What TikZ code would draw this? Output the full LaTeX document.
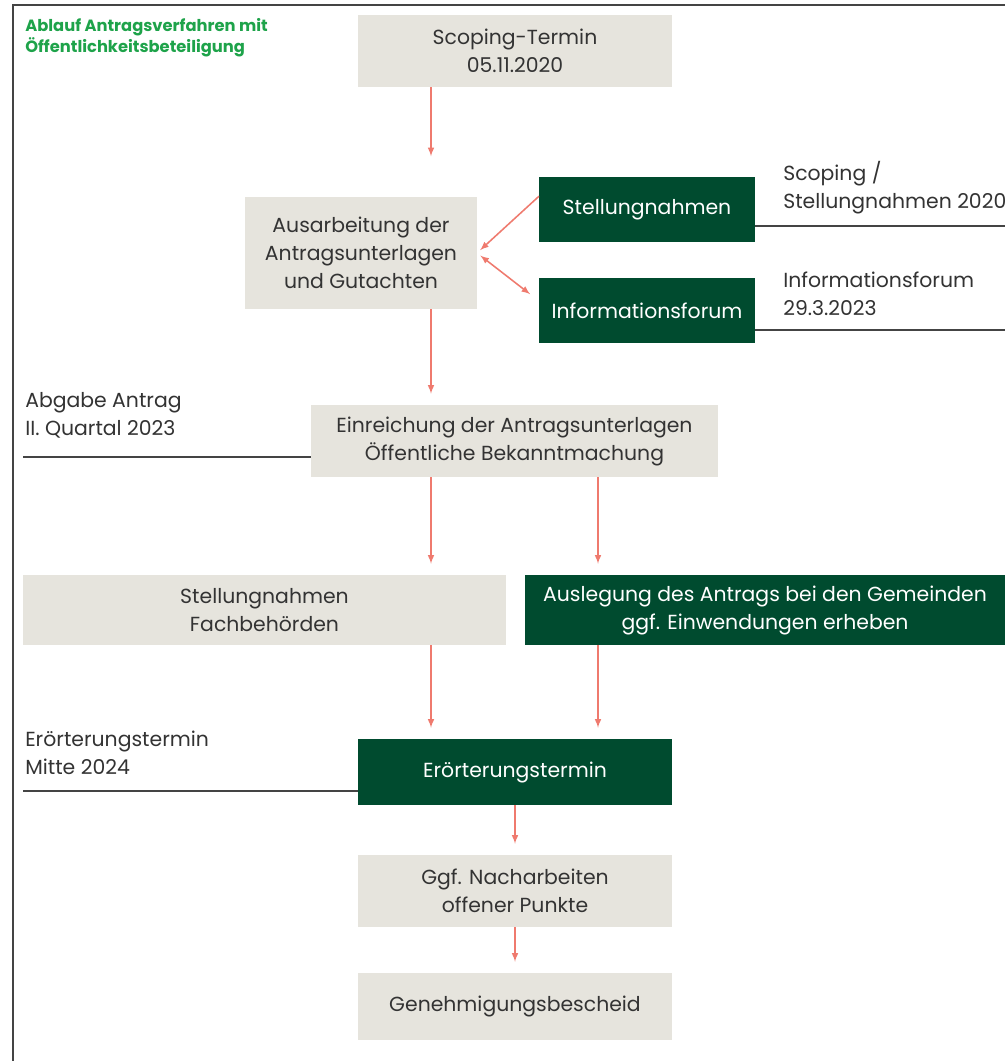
\documentclass[tikz,border=0pt]{standalone}
\usepackage{fontspec}
\setmainfont{Poppins}
\usepackage{tikz}
\usetikzlibrary{arrows}

\definecolor{boxgray}{HTML}{E6E4DD}
\definecolor{darkgreen}{HTML}{004B2F}
\definecolor{titlegreen}{HTML}{1EA34A}
\definecolor{arrowred}{HTML}{EF7A6E}
\definecolor{textgray}{HTML}{333333}
\definecolor{framegray}{HTML}{444444}

\begin{document}
\begin{tikzpicture}[x=0.025cm,y=-0.025cm,
	font=\fontsize{14.5}{19.9}\selectfont,
	graybox/.style={fill=boxgray,text=textgray,align=center,inner sep=0pt,outer sep=0pt},
	greenbox/.style={fill=darkgreen,text=white,align=center,inner sep=0pt,outer sep=0pt},
	sidelabel/.style={text=textgray,align=left,inner sep=0pt,anchor=west},
	arr/.style={draw=arrowred,line width=1.1pt,-latex,shorten >=8pt},
	rule/.style={draw=framegray,line width=0.9pt}]
	%% canvas
	\useasboundingbox (0,0) rectangle (1005,1061);
	\fill[white] (0,0) rectangle (1005,1061);
	\draw[framegray,line width=1.6pt] (13,1061) -- (13,5) -- (1005,5);
	%% title
	\node[text=titlegreen,align=left,anchor=west,inner sep=0pt,
		font=\fontsize{11.6}{13.6}\selectfont\bfseries] (title) at (25,37.5) {Ablauf Antragsverfahren mit\\Öffentlichkeitsbeteiligung};
	%% column positions of the vertical arrows
	\coordinate (colA) at (431,0);
	\coordinate (colB) at (598,0);
	%% boxes
	\node[graybox,minimum width=7.85cm,minimum height=1.8cm] (scoping) at (515,51) {Scoping-Termin\\05.11.2020};
	\node[graybox,minimum width=5.8cm,minimum height=2.8cm] (ausarb) at (361,253) {Ausarbeitung der\\Antragsunterlagen\\und Gutachten};
	\node[greenbox,minimum width=5.4cm,minimum height=1.625cm] (stell) at (647,209.5) {Stellungnahmen};
	\node[greenbox,minimum width=5.4cm,minimum height=1.625cm] (info) at (647,310.5) {Informationsforum};
	\node[graybox,minimum width=10.175cm,minimum height=1.8cm] (einr) at (514.5,441) {Einreichung der Antragsunterlagen\\Öffentliche Bekanntmachung};
	\node[graybox,minimum width=12.075cm,minimum height=1.75cm] (fach) at (264.5,610) {Stellungnahmen\\Fachbehörden};
	\node[greenbox,minimum width=12cm,minimum height=1.75cm] (ausl) at (765,610) {Auslegung des Antrags bei den Gemeinden\\ggf. Einwendungen erheben};
	\node[greenbox,minimum width=7.85cm,minimum height=1.65cm] (eroert) at (515,772) {Erörterungstermin};
	\node[graybox,minimum width=7.85cm,minimum height=1.8cm] (nacharb) at (515,891) {Ggf. Nacharbeiten\\offener Punkte};
	\node[graybox,minimum width=7.85cm,minimum height=1.675cm] (bescheid) at (515,1006.5) {Genehmigungsbescheid};
	%% side labels
	\node[sidelabel] (lblscoping) at (783,188) {Scoping /\\Stellungnahmen 2020};
	\node[sidelabel] (lblforum) at (783,294) {Informationsforum\\29.3.2023};
	\node[sidelabel] (lblabgabe) at (25,415.5) {Abgabe Antrag\\II. Quartal 2023};
	\node[sidelabel] (lbltermin) at (25,753) {Erörterungstermin\\Mitte 2024};
	\draw[rule] (stell.east |- 0,226) -- (1005,226);
	\draw[rule] (info.east |- 0,330) -- (1005,330);
	\draw[rule] (23,457) -- (einr.west |- 0,457);
	\draw[rule] (23,791) -- (eroert.west |- 0,791);
	%% arrows
	\draw[arr,shorten >=29pt] (scoping.south -| colA) -- (ausarb.north -| colA);
	\draw[arr] (ausarb.south -| colA) -- (einr.north -| colA);
	\draw[arr] (einr.south -| colA) -- (fach.north -| colA);
	\draw[arr] (einr.south -| colB) -- (ausl.north -| colB);
	\draw[arr] (fach.south -| colA) -- (eroert.north -| colA);
	\draw[arr] (ausl.south -| colB) -- (eroert.north -| colB);
	\draw[arr] (eroert.south) -- (nacharb.north);
	\draw[arr] (nacharb.south) -- (bescheid.north);
	\draw[arr,shorten >=3pt] (stell.173) -- (ausarb.east);
	\draw[arr,latex-latex,shorten <=3pt] (ausarb.east) -- (info.175);
\end{tikzpicture}
\end{document}
